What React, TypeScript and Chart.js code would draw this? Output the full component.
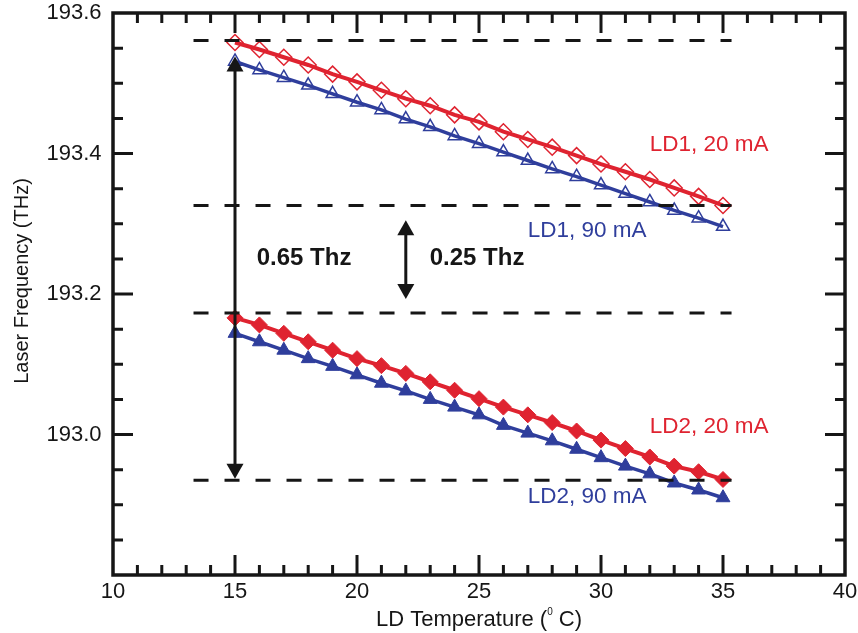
import { useEffect, useRef } from 'react';
import { Chart, registerables } from 'chart.js';

Chart.register(...registerables);

// ---- data ----
const temperatures = [15, 16, 17, 18, 19, 20, 21, 22, 23, 24, 25, 26, 27, 28, 29, 30, 31, 32, 33, 34, 35];
const ld1_20mA = [193.558, 193.548, 193.537, 193.526, 193.513, 193.502, 193.49, 193.478, 193.468, 193.455, 193.445, 193.431, 193.42, 193.409, 193.397, 193.385, 193.374, 193.363, 193.351, 193.339, 193.326];
const ld1_90mA = [193.531, 193.519, 193.508, 193.497, 193.485, 193.473, 193.462, 193.449, 193.438, 193.425, 193.414, 193.402, 193.39, 193.378, 193.367, 193.355, 193.343, 193.331, 193.319, 193.308, 193.296];
const ld2_20mA = [193.166, 193.156, 193.144, 193.132, 193.12, 193.108, 193.098, 193.087, 193.075, 193.063, 193.051, 193.039, 193.028, 193.017, 193.005, 192.992, 192.98, 192.968, 192.955, 192.947, 192.936];
const ld2_90mA = [193.144, 193.132, 193.12, 193.108, 193.097, 193.085, 193.073, 193.062, 193.05, 193.039, 193.028, 193.013, 193.002, 192.991, 192.979, 192.967, 192.955, 192.944, 192.931, 192.921, 192.91];

const dashLevels = [193.561, 193.326, 193.173, 192.935];
const dashRange = [13.3, 35.35];

const xMin = 10, xMax = 40, xStep = 5, xMinorStep = 1;
const yMin = 192.8, yMax = 193.6, yStep = 0.2, yMinorStep = 0.05;
const yUnlabeled = [192.8];

// arrows: [x, yTop, yBottom]
const arrowX = [15, 22];
const arrowTop = [193.538, 193.305];
const arrowBottom = [192.937, 193.193];

// annotation texts (anchor in data coords, left aligned)
const noteTexts = ['LD1, 20 mA', 'LD1, 90 mA', 'LD2, 20 mA', 'LD2, 90 mA', '0.65 Thz', '0.25 Thz'];
const noteX = [32.0, 27.0, 32.0, 27.0, 15.89, 22.98];
const noteY = [193.412, 193.29, 193.011, 192.911, 193.251, 193.251];

const RED = '#DF2330';
const BLUE = '#2F3E9C';
const BLACK = '#161616';
const noteColors = [RED, BLUE, RED, BLUE, BLACK, BLACK];
const noteBold = [false, false, false, false, true, true];

const FONT = '"Liberation Sans", Arial, Helvetica, sans-serif';

const xy = (ys: number[]) => temperatures.map((t, i) => ({ x: t, y: ys[i] }));

const decorPlugin = {
  id: 'decor',
  afterDatasetsDraw(chart: any) {
    const { ctx, chartArea: a, scales } = chart;
    const xs = scales.x, ys = scales.y;
    ctx.save();
    ctx.strokeStyle = BLACK;
    ctx.fillStyle = BLACK;
    ctx.lineCap = 'butt';

    // frame
    ctx.lineWidth = 3.5;
    ctx.strokeRect(a.left, a.top, a.right - a.left, a.bottom - a.top);

    // ticks (inward, all sides)
    ctx.lineWidth = 3;
    const nx = Math.round((xMax - xMin) / xMinorStep);
    for (let i = 1; i < nx; i++) {
      const v = xMin + i * xMinorStep;
      const major = Math.abs(((v - xMin) / xStep) - Math.round((v - xMin) / xStep)) < 1e-6;
      const len = major ? 20 : 10;
      const px = xs.getPixelForValue(v);
      ctx.beginPath();
      ctx.moveTo(px, a.bottom); ctx.lineTo(px, a.bottom - len);
      ctx.moveTo(px, a.top); ctx.lineTo(px, a.top + len);
      ctx.stroke();
    }
    const ny = Math.round((yMax - yMin) / yMinorStep);
    for (let i = 1; i < ny; i++) {
      const v = yMin + i * yMinorStep;
      const r = (v - yMin) / yStep;
      const major = Math.abs(r - Math.round(r)) < 1e-6;
      const len = major ? 20 : 10;
      const py = ys.getPixelForValue(v);
      ctx.beginPath();
      ctx.moveTo(a.left, py); ctx.lineTo(a.left + len, py);
      ctx.moveTo(a.right, py); ctx.lineTo(a.right - len, py);
      ctx.stroke();
    }

    // arrows
    const headL = 15, headW = 8.5;
    for (let i = 0; i < arrowX.length; i++) {
      const px = xs.getPixelForValue(arrowX[i]);
      const y1 = ys.getPixelForValue(arrowTop[i]);
      const y2 = ys.getPixelForValue(arrowBottom[i]);
      ctx.lineWidth = 3;
      ctx.beginPath();
      ctx.moveTo(px, y1 + headL - 2);
      ctx.lineTo(px, y2 - headL + 2);
      ctx.stroke();
      ctx.beginPath();
      ctx.moveTo(px, y1);
      ctx.lineTo(px - headW, y1 + headL);
      ctx.lineTo(px + headW, y1 + headL);
      ctx.closePath();
      ctx.fill();
      ctx.beginPath();
      ctx.moveTo(px, y2);
      ctx.lineTo(px - headW, y2 - headL);
      ctx.lineTo(px + headW, y2 - headL);
      ctx.closePath();
      ctx.fill();
    }

    // annotation texts
    ctx.textBaseline = 'middle';
    ctx.textAlign = 'left';
    for (let i = 0; i < noteTexts.length; i++) {
      ctx.fillStyle = noteColors[i];
      ctx.font = noteBold[i] ? `bold 24px ${FONT}` : `22.5px ${FONT}`;
      ctx.fillText(noteTexts[i], xs.getPixelForValue(noteX[i]), ys.getPixelForValue(noteY[i]));
    }

    // y title
    ctx.fillStyle = BLACK;
    ctx.font = `20px ${FONT}`;
    ctx.save();
    ctx.translate(22, 281);
    ctx.rotate(-Math.PI / 2);
    ctx.textAlign = 'center';
    ctx.textBaseline = 'middle';
    ctx.fillText('Laser Frequency (THz)', 0, 0);
    ctx.restore();

    // x title with superscript
    const p1 = 'LD Temperature (';
    const sup = '0';
    const p2 = ' C)';
    ctx.textAlign = 'left';
    ctx.textBaseline = 'alphabetic';
    ctx.font = `22px ${FONT}`;
    const w1 = ctx.measureText(p1).width;
    const w3 = ctx.measureText(p2).width;
    ctx.font = `10px ${FONT}`;
    const w2 = ctx.measureText(sup).width;
    const cx = (a.left + a.right) / 2;
    let sx = cx - (w1 + w2 + w3) / 2;
    const base = 626;
    ctx.font = `22px ${FONT}`;
    ctx.fillText(p1, sx, base);
    sx += w1;
    ctx.font = `10px ${FONT}`;
    ctx.fillText(sup, sx, base - 11);
    sx += w2;
    ctx.font = `22px ${FONT}`;
    ctx.fillText(p2, sx, base);

    ctx.restore();
  },
};

export default function App() {
  const ref = useRef<HTMLCanvasElement | null>(null);

  useEffect(() => {
    document.body.style.margin = '0';
    const canvas = ref.current;
    if (!canvas) return;
    Chart.defaults.font.family = FONT;

    const dashSets = dashLevels.map((lv) => ({
      label: 'ref',
      data: [{ x: dashRange[0], y: lv }, { x: dashRange[1], y: lv }],
      borderColor: BLACK,
      borderWidth: 3,
      borderDash: [15, 16],
      pointRadius: 0,
      fill: false,
      order: 0,
    }));

    const chart = new Chart(canvas, {
      type: 'line',
      data: {
        datasets: [
          {
            label: 'LD1, 20 mA',
            data: xy(ld1_20mA),
            borderColor: RED,
            borderWidth: 4,
            pointStyle: 'rectRot',
            pointRadius: 8,
            pointBorderWidth: 1.5,
            pointBorderColor: RED,
            pointBackgroundColor: 'rgba(255,255,255,0)',
            order: 1,
          },
          {
            label: 'LD1, 90 mA',
            data: xy(ld1_90mA),
            borderColor: BLUE,
            borderWidth: 3.5,
            pointStyle: 'triangle',
            pointRadius: 7.5,
            pointBorderWidth: 1.5,
            pointBorderColor: BLUE,
            pointBackgroundColor: 'rgba(255,255,255,0)',
            order: 1,
          },
          {
            label: 'LD2, 20 mA',
            data: xy(ld2_20mA),
            borderColor: RED,
            borderWidth: 4,
            pointStyle: 'rectRot',
            pointRadius: 8,
            pointBorderWidth: 1,
            pointBorderColor: RED,
            pointBackgroundColor: RED,
            order: 1,
          },
          {
            label: 'LD2, 90 mA',
            data: xy(ld2_90mA),
            borderColor: BLUE,
            borderWidth: 3.5,
            pointStyle: 'triangle',
            pointRadius: 8,
            pointBorderWidth: 1,
            pointBorderColor: BLUE,
            pointBackgroundColor: BLUE,
            order: 1,
          },
          ...dashSets,
        ] as any,
      },
      options: {
        animation: false,
        responsive: false,
        maintainAspectRatio: false,
        layout: { padding: { top: 13, right: 13, left: 0, bottom: 0 } },
        elements: { line: { tension: 0 } },
        plugins: { legend: { display: false }, tooltip: { enabled: false } },
        scales: {
          x: {
            type: 'linear',
            min: xMin,
            max: xMax,
            ticks: { stepSize: xStep, padding: 4, color: BLACK, font: { size: 22 } },
            grid: { display: false, drawTicks: false },
            border: { display: false },
            afterFit: (s: any) => { s.height = 58; s.paddingLeft = 0; s.paddingRight = 0; },
          },
          y: {
            type: 'linear',
            min: yMin,
            max: yMax,
            ticks: {
              stepSize: yStep,
              padding: 11.5,
              color: BLACK,
              font: { size: 22 },
              callback: (v: any) => {
                const n = Number(v);
                if (yUnlabeled.some((u) => Math.abs(u - n) < 1e-6)) return '';
                return n.toFixed(1);
              },
            },
            grid: { display: false, drawTicks: false },
            border: { display: false },
            afterFit: (s: any) => { s.width = 113; s.paddingTop = 0; s.paddingBottom = 0; },
          },
        },
      } as any,
      plugins: [decorPlugin],
    });
    return () => chart.destroy();
  }, []);

  return (
    <div style={{ position: 'fixed', left: 0, top: 0, width: 858, height: 633, background: '#fff' }}>
      <canvas ref={ref} width={858} height={633} style={{ display: 'block', width: 858, height: 633 }} />
    </div>
  );
}
